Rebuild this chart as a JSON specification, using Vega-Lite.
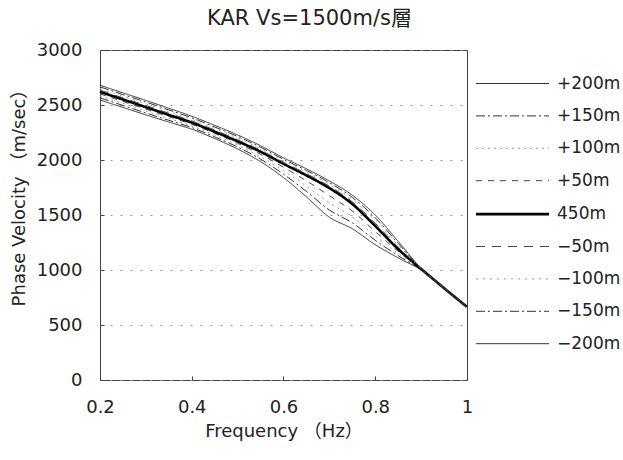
{
  "$schema": "https://vega.github.io/schema/vega-lite/v6.json",
  "width": 367,
  "height": 330,
  "autosize": {"type": "none"},
  "padding": {"left": 100, "top": 50, "right": 156, "bottom": 80},
  "background": "white",
  "title": {"text": "KAR  Vs=1500m/s層", "fontSize": 21, "fontWeight": "normal", "font": "DejaVu Sans, Noto Sans CJK JP", "color": "#222", "offset": 12, "dx": 26},
  "config": {
    "view": {"stroke": "#444", "strokeWidth": 1},
    "axis": {"labelFont": "DejaVu Sans", "labelFontSize": 18, "labelColor": "#222", "titleFont": "DejaVu Sans, Noto Sans CJK JP", "titleFontSize": 18, "titleFontWeight": "normal", "titleColor": "#222", "domain": false, "tickColor": "#444", "tickSize": -4, "labelFlush": false, "labelOverlap": false}
  },
  "data": {"values": [
    {"f":0.2,"s":"+200m","v":2545},{"f":0.2,"s":"+150m","v":2564},{"f":0.2,"s":"+100m","v":2582},{"f":0.2,"s":"+50m","v":2601},{"f":0.2,"s":"450m","v":2620},{"f":0.2,"s":"−50m","v":2635},{"f":0.2,"s":"−100m","v":2650},{"f":0.2,"s":"−150m","v":2665},{"f":0.2,"s":"−200m","v":2680},
    {"f":0.25,"s":"+200m","v":2478},{"f":0.25,"s":"+150m","v":2496},{"f":0.25,"s":"+100m","v":2514},{"f":0.25,"s":"+50m","v":2532},{"f":0.25,"s":"450m","v":2550},{"f":0.25,"s":"−50m","v":2565},{"f":0.25,"s":"−100m","v":2580},{"f":0.25,"s":"−150m","v":2595},{"f":0.25,"s":"−200m","v":2610},
    {"f":0.3,"s":"+200m","v":2410},{"f":0.3,"s":"+150m","v":2427},{"f":0.3,"s":"+100m","v":2445},{"f":0.3,"s":"+50m","v":2462},{"f":0.3,"s":"450m","v":2480},{"f":0.3,"s":"−50m","v":2496},{"f":0.3,"s":"−100m","v":2511},{"f":0.3,"s":"−150m","v":2527},{"f":0.3,"s":"−200m","v":2542},
    {"f":0.35,"s":"+200m","v":2345},{"f":0.35,"s":"+150m","v":2361},{"f":0.35,"s":"+100m","v":2378},{"f":0.35,"s":"+50m","v":2394},{"f":0.35,"s":"450m","v":2410},{"f":0.35,"s":"−50m","v":2425},{"f":0.35,"s":"−100m","v":2440},{"f":0.35,"s":"−150m","v":2455},{"f":0.35,"s":"−200m","v":2470},
    {"f":0.4,"s":"+200m","v":2280},{"f":0.4,"s":"+150m","v":2295},{"f":0.4,"s":"+100m","v":2310},{"f":0.4,"s":"+50m","v":2325},{"f":0.4,"s":"450m","v":2340},{"f":0.4,"s":"−50m","v":2355},{"f":0.4,"s":"−100m","v":2369},{"f":0.4,"s":"−150m","v":2384},{"f":0.4,"s":"−200m","v":2398},
    {"f":0.45,"s":"+200m","v":2195},{"f":0.45,"s":"+150m","v":2210},{"f":0.45,"s":"+100m","v":2226},{"f":0.45,"s":"+50m","v":2242},{"f":0.45,"s":"450m","v":2257},{"f":0.45,"s":"−50m","v":2272},{"f":0.45,"s":"−100m","v":2286},{"f":0.45,"s":"−150m","v":2300},{"f":0.45,"s":"−200m","v":2315},
    {"f":0.5,"s":"+200m","v":2100},{"f":0.5,"s":"+150m","v":2118},{"f":0.5,"s":"+100m","v":2135},{"f":0.5,"s":"+50m","v":2152},{"f":0.5,"s":"450m","v":2170},{"f":0.5,"s":"−50m","v":2184},{"f":0.5,"s":"−100m","v":2199},{"f":0.5,"s":"−150m","v":2214},{"f":0.5,"s":"−200m","v":2228},
    {"f":0.55,"s":"+200m","v":1985},{"f":0.55,"s":"+150m","v":2008},{"f":0.55,"s":"+100m","v":2030},{"f":0.55,"s":"+50m","v":2052},{"f":0.55,"s":"450m","v":2075},{"f":0.55,"s":"−50m","v":2089},{"f":0.55,"s":"−100m","v":2102},{"f":0.55,"s":"−150m","v":2116},{"f":0.55,"s":"−200m","v":2130},
    {"f":0.6,"s":"+200m","v":1840},{"f":0.6,"s":"+150m","v":1871},{"f":0.6,"s":"+100m","v":1902},{"f":0.6,"s":"+50m","v":1934},{"f":0.6,"s":"450m","v":1965},{"f":0.6,"s":"−50m","v":1979},{"f":0.6,"s":"−100m","v":1992},{"f":0.6,"s":"−150m","v":2006},{"f":0.6,"s":"−200m","v":2020},
    {"f":0.65,"s":"+200m","v":1665},{"f":0.65,"s":"+150m","v":1714},{"f":0.65,"s":"+100m","v":1762},{"f":0.65,"s":"+50m","v":1811},{"f":0.65,"s":"450m","v":1860},{"f":0.65,"s":"−50m","v":1875},{"f":0.65,"s":"−100m","v":1890},{"f":0.65,"s":"−150m","v":1905},{"f":0.65,"s":"−200m","v":1920},
    {"f":0.7,"s":"+200m","v":1480},{"f":0.7,"s":"+150m","v":1545},{"f":0.7,"s":"+100m","v":1610},{"f":0.7,"s":"+50m","v":1675},{"f":0.7,"s":"450m","v":1745},{"f":0.7,"s":"−50m","v":1762},{"f":0.7,"s":"−100m","v":1778},{"f":0.7,"s":"−150m","v":1794},{"f":0.7,"s":"−200m","v":1810},
    {"f":0.75,"s":"+200m","v":1375},{"f":0.75,"s":"+150m","v":1429},{"f":0.75,"s":"+100m","v":1482},{"f":0.75,"s":"+50m","v":1536},{"f":0.75,"s":"450m","v":1600},{"f":0.75,"s":"−50m","v":1620},{"f":0.75,"s":"−100m","v":1640},{"f":0.75,"s":"−150m","v":1660},{"f":0.75,"s":"−200m","v":1680},
    {"f":0.8,"s":"+200m","v":1230},{"f":0.8,"s":"+150m","v":1270},{"f":0.8,"s":"+100m","v":1310},{"f":0.8,"s":"+50m","v":1350},{"f":0.8,"s":"450m","v":1400},{"f":0.8,"s":"−50m","v":1425},{"f":0.8,"s":"−100m","v":1450},{"f":0.8,"s":"−150m","v":1475},{"f":0.8,"s":"−200m","v":1500},
    {"f":0.85,"s":"+200m","v":1110},{"f":0.85,"s":"+150m","v":1130},{"f":0.85,"s":"+100m","v":1150},{"f":0.85,"s":"+50m","v":1170},{"f":0.85,"s":"450m","v":1190},{"f":0.85,"s":"−50m","v":1208},{"f":0.85,"s":"−100m","v":1225},{"f":0.85,"s":"−150m","v":1242},{"f":0.85,"s":"−200m","v":1260},
    {"f":0.9,"s":"+200m","v":1000},{"f":0.9,"s":"+150m","v":1002},{"f":0.9,"s":"+100m","v":1005},{"f":0.9,"s":"+50m","v":1008},{"f":0.9,"s":"450m","v":1010},{"f":0.9,"s":"−50m","v":1011},{"f":0.9,"s":"−100m","v":1012},{"f":0.9,"s":"−150m","v":1014},{"f":0.9,"s":"−200m","v":1015},
    {"f":0.95,"s":"+200m","v":835},{"f":0.95,"s":"+150m","v":835},{"f":0.95,"s":"+100m","v":835},{"f":0.95,"s":"+50m","v":835},{"f":0.95,"s":"450m","v":835},{"f":0.95,"s":"−50m","v":835},{"f":0.95,"s":"−100m","v":835},{"f":0.95,"s":"−150m","v":835},{"f":0.95,"s":"−200m","v":835},
    {"f":1.0,"s":"+200m","v":665},{"f":1.0,"s":"+150m","v":665},{"f":1.0,"s":"+100m","v":665},{"f":1.0,"s":"+50m","v":665},{"f":1.0,"s":"450m","v":665},{"f":1.0,"s":"−50m","v":665},{"f":1.0,"s":"−100m","v":665},{"f":1.0,"s":"−150m","v":665},{"f":1.0,"s":"−200m","v":665}
  ]},
  "mark": {"type": "line", "interpolate": "monotone"},
  "encoding": {
    "x": {"field": "f", "type": "quantitative", "scale": {"domain": [0.2, 1], "nice": false}, "axis": {"values": [0.2, 0.4, 0.6, 0.8, 1], "format": "~g", "title": "Frequency （Hz）", "grid": false, "labelPadding": 22, "titlePadding": 6}},
    "y": {"field": "v", "type": "quantitative", "scale": {"domain": [0, 3000], "nice": false}, "axis": {"values": [0, 500, 1000, 1500, 2000, 2500, 3000], "format": "d", "title": "Phase Velocity  （m/sec）", "grid": true, "gridDash": [2, 8], "gridColor": "#999", "gridWidth": 1, "labelPadding": 22, "titlePadding": 8, "titleY": 143}},
    "strokeDash": {"field": "s", "type": "nominal", "scale": {"domain": ["+200m", "+150m", "+100m", "+50m", "450m", "−50m", "−100m", "−150m", "−200m"], "range": [[1, 0], [9, 3, 2, 3], [2, 4], [6, 6], [1, 0], [9, 7], [2, 5], [9, 3, 2, 3], [1, 0]]}, "legend": {"title": null, "orient": "right", "offset": 5, "padding": 23, "symbolType": "M-3.65,0H3.65", "symbolSize": 400, "labelFont": "DejaVu Sans", "labelFontSize": 17, "labelColor": "#222", "labelOffset": 33, "rowPadding": 13.4}},
    "color": {"field": "s", "type": "nominal", "scale": {"domain": ["+200m", "+150m", "+100m", "+50m", "450m", "−50m", "−100m", "−150m", "−200m"], "range": ["#333", "#333", "#999", "#444", "#000", "#444", "#999", "#333", "#333"]}, "legend": {"title": null, "orient": "right", "offset": 5, "padding": 23, "symbolType": "M-3.65,0H3.65", "symbolSize": 400, "labelFont": "DejaVu Sans", "labelFontSize": 17, "labelColor": "#222", "labelOffset": 33, "rowPadding": 13.4}},
    "strokeWidth": {"field": "s", "type": "nominal", "scale": {"type": "ordinal", "domain": ["+200m", "+150m", "+100m", "+50m", "450m", "−50m", "−100m", "−150m", "−200m"], "range": [1, 1, 1, 1, 2.6, 1, 1, 1, 1]}, "legend": {"title": null, "orient": "right", "offset": 5, "padding": 23, "symbolType": "M-3.65,0H3.65", "symbolSize": 400, "labelFont": "DejaVu Sans", "labelFontSize": 17, "labelColor": "#222", "labelOffset": 33, "rowPadding": 13.4}}
  }
}
